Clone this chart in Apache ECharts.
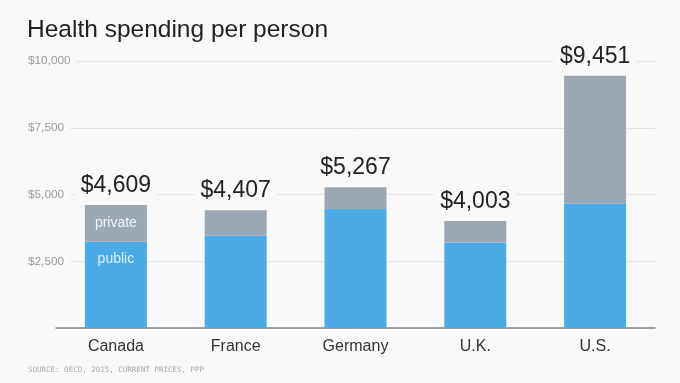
<!DOCTYPE html>
<html><head><meta charset="utf-8">
<script src="https://cdn.jsdelivr.net/npm/echarts@6/dist/echarts.min.js"></script>
<style>html,body{margin:0;padding:0;background:#f9f9f9}#c{width:680px;height:383px}</style>
</head><body><div id="c"></div>
<script>
const categories = ['Canada', 'France', 'Germany', 'U.K.', 'U.S.'];
const publicSpend = [3236, 3460, 4460, 3200, 4660];
const totalSpend = [4609, 4407, 5267, 4003, 9451];
const privateSpend = totalSpend.map((t, i) => t - publicSpend[i]);
const yTicks = [0, 2500, 5000, 7500, 10000];

const chart = echarts.init(document.getElementById('c'), null, {renderer: 'canvas'});
const BG = '#f9f9f9';
chart.setOption({
  backgroundColor: BG,
  animation: false,
  title: [{
    text: 'Health spending per person', left: 22, top: 13,
    textStyle: {fontFamily: 'Liberation Sans', fontWeight: 'normal', fontSize: 24.5, color: '#222'}
  }, {
    text: 'SOURCE: OECD, 2015, CURRENT PRICES, PPP', left: 23, top: 361,
    textStyle: {fontFamily: 'DejaVu Sans Mono', fontWeight: 'normal', fontSize: 7.5, color: '#aaa'}
  }],
  grid: {left: 56, right: 25, top: 61, bottom: 55},
  xAxis: {
    type: 'category', data: categories,
    axisLine: {lineStyle: {color: '#888', width: 1.5}},
    axisTick: {show: false},
    axisLabel: {fontFamily: 'Liberation Sans Narrow, Liberation Sans', fontSize: 16, color: '#333', margin: 11}
  },
  yAxis: {
    type: 'value', min: yTicks[0], max: yTicks[yTicks.length - 1], interval: 2500,
    axisLine: {show: false}, axisTick: {show: false},
    splitLine: {lineStyle: {color: '#e4e4e4', width: 1}},
    axisLabel: {
      formatter: v => v === 0 ? '' : '$' + v.toLocaleString('en-US'),
      align: 'left', margin: 28,
      fontFamily: 'Liberation Sans', fontSize: 11.8, color: '#9a9a9a',
      backgroundColor: BG, padding: [2, 6, 2, 0]
    }
  },
  series: [{
    name: 'public', type: 'bar', stack: 't', barWidth: 62,
    data: publicSpend,
    itemStyle: {color: '#4aabe6'},
    label: {
      show: true, position: 'insideTop', distance: 11, color: '#dff0ff', fontFamily: 'Liberation Sans', fontSize: 14,
      formatter: p => p.dataIndex === 0 ? 'public' : ''
    }
  }, {
    name: 'private', type: 'bar', stack: 't', barWidth: 62,
    data: privateSpend,
    itemStyle: {color: '#9ba8b3'},
    label: {
      show: true, position: 'inside', color: '#f0f4f8', fontFamily: 'Liberation Sans', fontSize: 14,
      formatter: p => p.dataIndex === 0 ? 'private' : ''
    }
  }, {
    name: 'total', type: 'bar', stack: 't', barWidth: 62,
    data: totalSpend.map(() => 0),
    itemStyle: {color: 'transparent'},
    label: {
      show: true, position: 'top', distance: 8,
      formatter: p => '$' + totalSpend[p.dataIndex].toLocaleString('en-US'),
      fontFamily: 'Liberation Sans', fontSize: 23, color: '#222',
      backgroundColor: BG, padding: [0, 6, 0, 6]
    }
  }]
});
</script></body></html>
